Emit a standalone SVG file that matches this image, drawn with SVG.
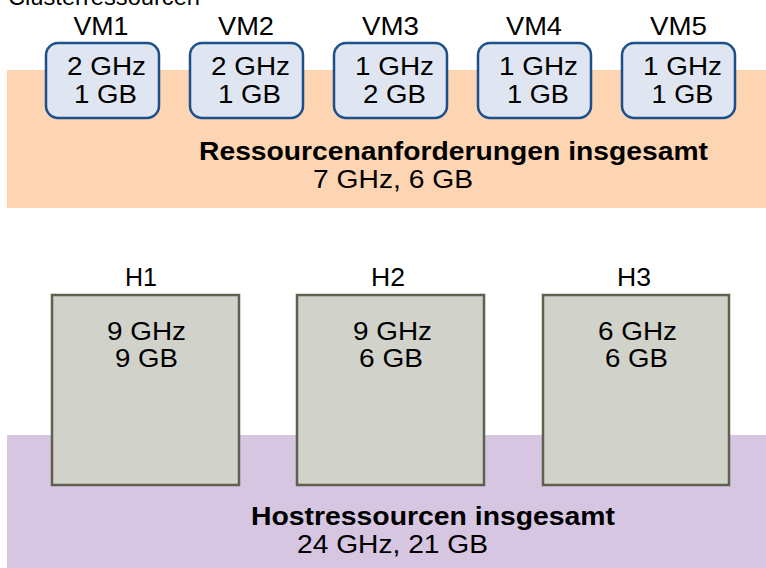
<svg xmlns="http://www.w3.org/2000/svg" width="766" height="568" viewBox="0 0 766 568">
<style>
text{font-family:"Liberation Sans",Arial,sans-serif;font-size:25px;fill:#000;}
.c{text-anchor:middle;}
.b{font-weight:bold;}
.vm{fill:#dfe6f2;stroke:#1d4f8a;stroke-width:2.5;}
.host{fill:#d1d2ca;stroke:#5e6150;stroke-width:2.5;}
</style>
<rect width="766" height="568" fill="#ffffff"/>
<text x="8" y="5" style="font-size:24px" textLength="192" lengthAdjust="spacingAndGlyphs">Clusterressourcen</text>
<g id="requests-band">
<rect x="7" y="70" width="759" height="138" fill="#fdd5b2"/>
<text x="199" y="160" class="b" textLength="509" lengthAdjust="spacingAndGlyphs">Ressourcenanforderungen insgesamt</text>
<text x="313" y="188" textLength="160" lengthAdjust="spacingAndGlyphs">7 GHz, 6 GB</text>
</g>
<g id="host-band">
<rect x="7" y="435" width="759" height="133" fill="#d6c6e1"/>
<text x="251" y="525" class="b" textLength="364" lengthAdjust="spacingAndGlyphs">Hostressourcen insgesamt</text>
<text x="297" y="553" textLength="191" lengthAdjust="spacingAndGlyphs">24 GHz, 21 GB</text>
</g>
<g id="connectors"></g>
<g id="VM1">
<text x="101" y="35" class="c" textLength="55" lengthAdjust="spacingAndGlyphs">VM1</text>
<rect x="46" y="43" width="113" height="75" rx="12" class="vm"/>
<text x="106.5" y="75" class="c" textLength="79" lengthAdjust="spacingAndGlyphs">2 GHz</text>
<text x="105.5" y="103" class="c" textLength="63" lengthAdjust="spacingAndGlyphs">1 GB</text>
</g>
<g id="VM2">
<text x="246" y="35" class="c" textLength="56" lengthAdjust="spacingAndGlyphs">VM2</text>
<rect x="190" y="43" width="113" height="75" rx="12" class="vm"/>
<text x="250.5" y="75" class="c" textLength="79" lengthAdjust="spacingAndGlyphs">2 GHz</text>
<text x="249.5" y="103" class="c" textLength="63" lengthAdjust="spacingAndGlyphs">1 GB</text>
</g>
<g id="VM3">
<text x="390.5" y="35" class="c" textLength="57" lengthAdjust="spacingAndGlyphs">VM3</text>
<rect x="334" y="43" width="113" height="75" rx="12" class="vm"/>
<text x="394.5" y="75" class="c" textLength="79" lengthAdjust="spacingAndGlyphs">1 GHz</text>
<text x="394.5" y="103" class="c" textLength="63" lengthAdjust="spacingAndGlyphs">2 GB</text>
</g>
<g id="VM4">
<text x="534" y="35" class="c" textLength="56" lengthAdjust="spacingAndGlyphs">VM4</text>
<rect x="478" y="43" width="113" height="75" rx="12" class="vm"/>
<text x="538.5" y="75" class="c" textLength="79" lengthAdjust="spacingAndGlyphs">1 GHz</text>
<text x="538" y="103" class="c" textLength="62" lengthAdjust="spacingAndGlyphs">1 GB</text>
</g>
<g id="VM5">
<text x="678.5" y="35" class="c" textLength="57" lengthAdjust="spacingAndGlyphs">VM5</text>
<rect x="622" y="43" width="113" height="75" rx="12" class="vm"/>
<text x="682.5" y="75" class="c" textLength="79" lengthAdjust="spacingAndGlyphs">1 GHz</text>
<text x="682.5" y="103" class="c" textLength="62" lengthAdjust="spacingAndGlyphs">1 GB</text>
</g>
<g id="H1">
<text x="141" y="286" class="c" textLength="32" lengthAdjust="spacingAndGlyphs">H1</text>
<rect x="52" y="295" width="187" height="190" class="host"/>
<text x="146.5" y="340" class="c" textLength="79" lengthAdjust="spacingAndGlyphs">9 GHz</text>
<text x="146.5" y="367" class="c" textLength="63" lengthAdjust="spacingAndGlyphs">9 GB</text>
</g>
<g id="H2">
<text x="388" y="286" class="c" textLength="34" lengthAdjust="spacingAndGlyphs">H2</text>
<rect x="297" y="295" width="187" height="190" class="host"/>
<text x="392.5" y="340" class="c" textLength="79" lengthAdjust="spacingAndGlyphs">9 GHz</text>
<text x="391" y="367" class="c" textLength="64" lengthAdjust="spacingAndGlyphs">6 GB</text>
</g>
<g id="H3">
<text x="634" y="286" class="c" textLength="34" lengthAdjust="spacingAndGlyphs">H3</text>
<rect x="543" y="295" width="186" height="190" class="host"/>
<text x="637.5" y="340" class="c" textLength="79" lengthAdjust="spacingAndGlyphs">6 GHz</text>
<text x="636.5" y="367" class="c" textLength="63" lengthAdjust="spacingAndGlyphs">6 GB</text>
</g>
</svg>
